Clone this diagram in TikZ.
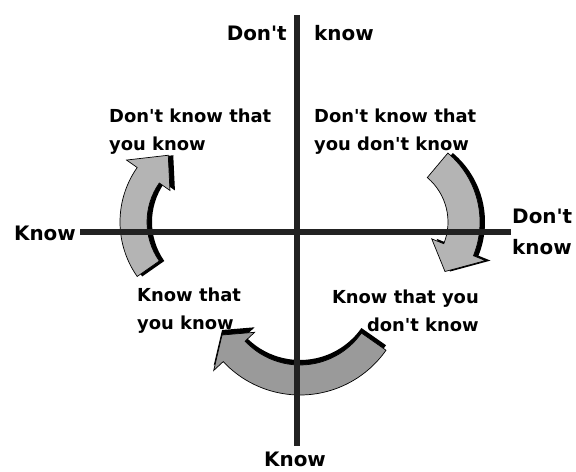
\documentclass[tikz,border=0pt]{standalone}
\usepackage{fontspec}
\newfontfamily\lblfont{DejaVu Sans}
\usetikzlibrary{positioning}
\definecolor{axisgray}{HTML}{222222}
\definecolor{arrlight}{HTML}{B4B4B4}
\definecolor{arrdark}{HTML}{9A9A9A}
\tikzset{
  axis/.style={draw=axisgray, line width=5.5},
  alab/.style={font=\lblfont\bfseries\fontsize{17}{26}\selectfont, inner sep=0pt, align=left},
  qlab/.style={font=\lblfont\bfseries\fontsize{15.3}{24}\selectfont, inner sep=0pt, align=left},
  garr/.style={draw=black, line width=0.6, fill=arrlight},
  shad/.style={fill=black}
}
% block arrow bent along a circle: from, to, tip angle, inner r, outer r
\newcommand{\arcarrow}[5]{(#1:#5) arc[start angle=#1, end angle=#2, radius=#5]
  -- (#2:{#5+13}) -- (#3:{(#4+#5)/2}) -- (#2:{#4-13})
  -- (#2:#4) arc[start angle=#2, end angle=#1, radius=#4] -- cycle}

\begin{document}
\begin{tikzpicture}[x=0.03cm, y=-0.03cm]
		\useasboundingbox (0,0) rectangle (576,472);
		\begin{scope}[shift={(215,222)}]
		\fill[shad, shift={(5,0)}] \arcarrow{145}{215}{235}{68}{95};
		\filldraw[garr] \arcarrow{145}{215}{235}{68}{95};
		\end{scope}
		\begin{scope}[shift={(390,222)}]
		\fill[shad, shift={(5,0)}] \arcarrow{-50}{22}{42}{58}{90};
		\filldraw[garr] \arcarrow{-50}{22}{42}{58}{90};
		\end{scope}
		\begin{scope}[shift={(300,290)}]
		\fill[shad, shift={(0,-5)}] \arcarrow{35}{137}{150}{75}{105};
		\filldraw[garr, fill=arrdark] \arcarrow{35}{137}{150}{75}{105};
		\end{scope}
		\coordinate (vtop) at (297,15);
		\coordinate (vbot) at (297,446);
		\coordinate (hl) at (80,232);
		\coordinate (hr) at (511,232);
		\draw[axis] (vtop) -- (vbot);
		\draw[axis, line width=4.5] (hl) -- (hr);
		\node[alab, anchor=east] (dk) at (287,33) {Don't};
		\node[alab, anchor=west] (kn) at (314,33) {know};
		\node[alab, anchor=east] (kl) at (76,233) {Know};
		\node[alab, anchor=west] (dkr) at (512,232) {Don't\\know};
		\node[alab] (kb) at (295,459) {Know};
		\node[qlab, anchor=west] (q1) at (109,132) {Don't know that\\you know};
		\node[qlab, anchor=west] (q2) at (314,132) {Don't know that\\you don't know};
		\node[qlab, anchor=west] (q3) at (137,311) {Know that\\you know};
		\node[qlab, anchor=east, align=right] (q4) at (479,311) {Know that you\\don't know};
	\end{tikzpicture}
\end{document}
